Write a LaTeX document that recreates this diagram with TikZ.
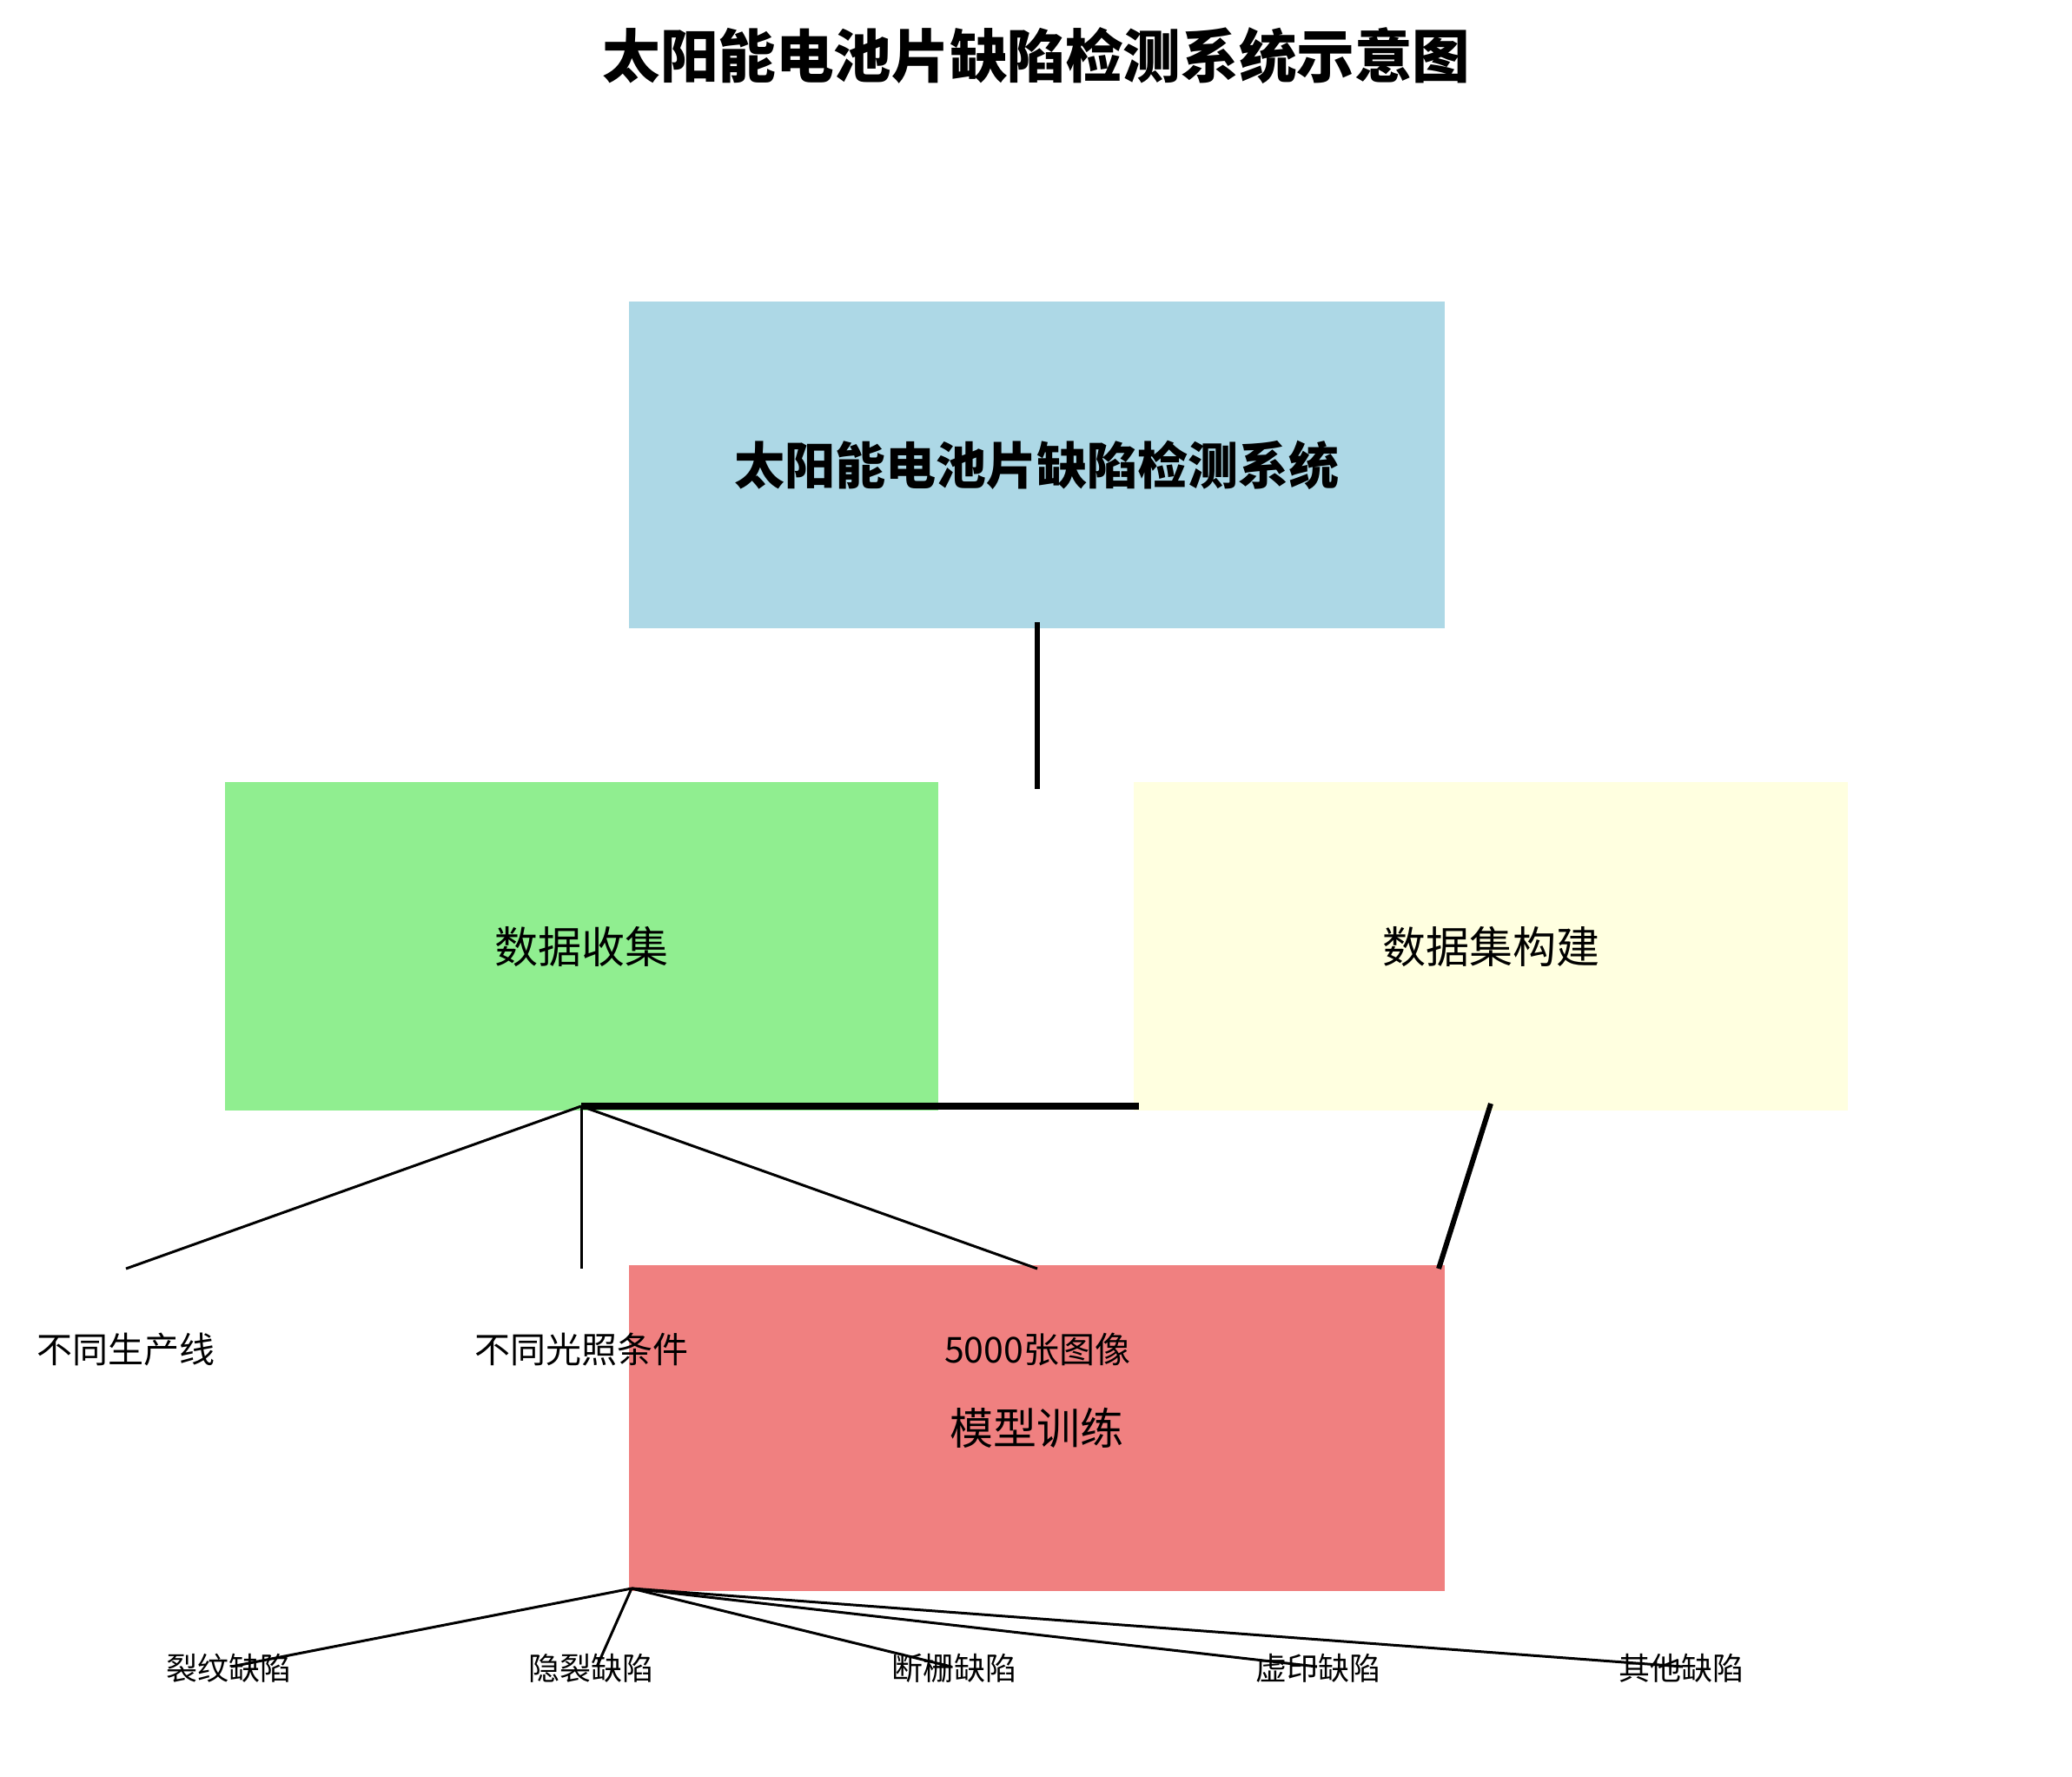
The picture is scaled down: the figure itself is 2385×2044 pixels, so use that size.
\documentclass[tikz,border=0pt]{standalone}
\usepackage{fontspec}
\setmainfont{Noto Sans CJK SC}
\begin{document}
\begin{tikzpicture}[x=0.5pt,y=-0.5pt,
  box/.style={draw=none,inner sep=0pt,anchor=center},
  thinln/.style={line width=1.5pt,black},
  thickln/.style={line width=2.6pt,black},
  lbl/.style={inner sep=0pt,anchor=center,font=\fontsize{20.5}{24}\selectfont},
  blbl/.style={inner sep=0pt,anchor=center,font=\fontsize{18}{22}\selectfont}]
\useasboundingbox (0,0) rectangle (2385,2044);
\definecolor{lblue}{HTML}{ADD8E6}
\definecolor{lgreen}{HTML}{90EE90}
\definecolor{lyellow}{HTML}{FFFFE0}
\definecolor{lcoral}{HTML}{F08080}
\node[inner sep=0pt,font=\fontsize{33.3}{38}\selectfont\bfseries] (title) at (1193,64) {太阳能电池片缺陷检测系统示意图};
\node[box,fill=lblue,minimum width=469.5pt,minimum height=188pt,font=\fontsize{29}{34}\selectfont\bfseries] (sys) at (1193.5,535) {太阳能电池片缺陷检测系统};
\node[box,fill=lgreen,minimum width=410.5pt,minimum height=189pt,font=\fontsize{25}{29}\selectfont] (collect) at (669.5,1089) {数据收集};
\node[box,fill=lyellow,minimum width=411pt,minimum height=189pt,font=\fontsize{25}{29}\selectfont] (build) at (1716,1089) {数据集构建};
\node[box,fill=lcoral,minimum width=469.5pt,minimum height=187.5pt,font=\fontsize{25}{29}\selectfont] (train) at (1193.5,1643.5) {模型训练};
% labels
\node[lbl] (l1) at (145,1553) {不同生产线};
\node[lbl] (l2) at (669,1553) {不同光照条件};
\node[lbl] (l3) at (1194,1553) {5000张图像};
\node[blbl] (d1) at (263,1920) {裂纹缺陷};
\node[blbl] (d2) at (680,1920) {隐裂缺陷};
\node[blbl] (d3) at (1098,1920) {断栅缺陷};
\node[blbl] (d4) at (1517,1920) {虚印缺陷};
\node[blbl] (d5) at (1935,1920) {其他缺陷};
% coordinates
\coordinate (sysb) at (1194,716);
\coordinate (sysend) at (1194,908);
\coordinate (hub) at (669,1273);
\coordinate (hubend) at (1311,1273);
\coordinate (e1) at (145,1460);
\coordinate (e2) at (669,1460);
\coordinate (e3) at (1194,1460);
\coordinate (bb) at (1716,1270);
\coordinate (bend) at (1656,1460);
\coordinate (thub) at (727,1828);
\coordinate (f1) at (266,1918);
\coordinate (f2) at (687,1918);
\coordinate (f3) at (1095,1918);
\coordinate (f4) at (1516,1918);
\coordinate (f5) at (1937,1918);
% connectors
\draw[thickln] (sysb) -- (sysend);
\draw[line width=4pt] (hub) -- (hubend);
\draw[thinln] (hub) -- (e1);
\draw[thinln] (hub) -- (e2);
\draw[thinln] (hub) -- (e3);
\draw[line width=3pt] (bb) -- (bend);
\foreach \f in {f1,f2,f3,f4,f5} \draw[thinln] (thub) -- (\f);
\end{tikzpicture}
\end{document}
